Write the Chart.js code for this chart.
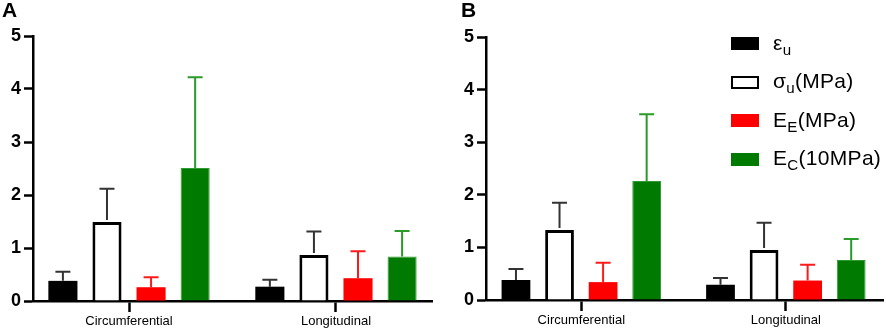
<!DOCTYPE html>
<html><head><meta charset="utf-8">
<script src="https://cdn.jsdelivr.net/npm/chart.js@4.4.0/dist/chart.umd.min.js"></script>
<style>
html,body{margin:0;padding:0;background:#fff;}
#wrap{position:relative;width:886px;height:328px;overflow:hidden;font-family:"Liberation Sans",Arial,sans-serif;color:#000;}
.panel{position:absolute;top:0;width:443px;height:328px;}
.letter{position:absolute;top:-1px;font-weight:bold;font-size:21px;line-height:21px;}
#legend{position:absolute;left:731px;top:0;}
.sw{position:absolute;left:0;width:28px;height:13px;box-sizing:border-box;}
.lt{position:absolute;left:42px;font-size:21px;line-height:22px;white-space:nowrap;letter-spacing:0.3px;}
.lt sub{font-size:0.72em;vertical-align:-0.32em;line-height:0;}
</style></head><body>
<div id="wrap">
<div class="panel" style="left:0"><canvas id="cA" width="443" height="328"></canvas></div>
<div class="panel" style="left:443px"><canvas id="cB" width="443" height="328"></canvas></div>
<div class="letter" style="left:2px">A</div>
<div class="letter" style="left:461px">B</div>
<div id="legend"></div>
</div>
<script>
const categories = ['Circumferential', 'Longitudinal'];
const yTicks = [0, 1, 2, 3, 4, 5];
const seriesMain = ['\u03b5', '\u03c3', 'E', 'E'];
const seriesSub = ['u', 'u', 'E', 'C'];
const seriesUnit = ['', '(MPa)', '(MPa)', '(10MPa)'];
const fillColors = ['#000000', '#ffffff', '#ff0000', '#007a00'];
const edgeColors = ['#000000', '#000000', '#ff0000', '#2f9a2f'];
const errColors = ['#333333', '#333333', '#ff1a1a', '#2a9a2a'];

// Panel A: means
const aStrain = [0.38, 0.27];
const aStress = [1.49, 0.87];
const aModE = [0.26, 0.43];
const aModC = [2.51, 0.84];
// Panel A: SD
const aStrainSd = [0.17, 0.13];
const aStressSd = [0.63, 0.44];
const aModESd = [0.19, 0.51];
const aModCSd = [1.71, 0.48];

// Panel B: means
const bStrain = [0.38, 0.29];
const bStress = [1.33, 0.95];
const bModE = [0.34, 0.37];
const bModC = [2.26, 0.76];
// Panel B: SD
const bStrainSd = [0.21, 0.13];
const bStressSd = [0.52, 0.52];
const bModESd = [0.37, 0.30];
const bModCSd = [1.27, 0.40];

function makeDatasets(vals, sds) {
  return vals.map((v, i) => ({
    label: seriesMain[i] + seriesSub[i] + seriesUnit[i],
    data: v.map((y, k) => ({ x: k, y: y })),
    errors: sds[i],
    backgroundColor: fillColors[i],
    borderColor: edgeColors[i],
    borderWidth: i === 1 ? 3 : (i === 3 ? 1 : 0),
    borderSkipped: 'start',
    categoryPercentage: 0.852,
    barPercentage: 0.66
  }));
}

const errPlugin = {
  id: 'errbars',
  afterDatasetsDraw(chart) {
    const ctx = chart.ctx, ys = chart.scales.y;
    chart.data.datasets.forEach((ds, i) => {
      const meta = chart.getDatasetMeta(i);
      meta.data.forEach((bar, k) => {
        const v = ds.data[k].y, e = ds.errors[k];
        const yTop = ys.getPixelForValue(v + e), yBase = ys.getPixelForValue(v);
        ctx.save();
        ctx.strokeStyle = errColors[i];
        ctx.lineWidth = 2;
        ctx.beginPath();
        ctx.moveTo(bar.x, yBase - (i === 1 ? 2 : 0));
        ctx.lineTo(bar.x, yTop);
        ctx.moveTo(bar.x - 7.5, yTop);
        ctx.lineTo(bar.x + 7.5, yTop);
        ctx.stroke();
        ctx.restore();
      });
    });
  }
};

function makeChart(id, vals, sds, pad, xH, xmin, xmax) {
  return new Chart(document.getElementById(id), {
    type: 'bar',
    data: { datasets: makeDatasets(vals, sds) },
    options: {
      responsive: false,
      animation: false,
      layout: { padding: pad },
      plugins: { legend: { display: false }, tooltip: { enabled: false } },
      scales: {
        x: {
          type: 'linear', min: xmin, max: xmax, offset: false,
          afterBuildTicks(s) { s.ticks = categories.map((c, k) => ({ value: k })); },
          afterFit(s) { s.height = xH; },
          ticks: {
            callback: (v) => categories[v],
            font: { size: 13, family: '"Liberation Sans", Arial, sans-serif' },
            color: '#000', padding: 2, maxRotation: 0, autoSkip: false
          },
          grid: { drawOnChartArea: false, drawTicks: true, tickLength: 11, tickWidth: 2.5, tickColor: '#000', offset: false },
          border: { display: true, color: '#000', width: 2.5 }
        },
        y: {
          min: 0, max: 5,
          afterBuildTicks(s) { s.ticks = yTicks.map(v => ({ value: v })); },
          afterFit(s) { s.width = 33; },
          ticks: {
            font: { size: 18, weight: 'bold', family: '"Liberation Sans", Arial, sans-serif' },
            color: '#000', padding: 3
          },
          grid: { drawOnChartArea: false, drawTicks: true, tickLength: 9, tickWidth: 2.5, tickColor: '#000' },
          border: { display: true, color: '#000', width: 2.5 }
        }
      }
    },
    plugins: [errPlugin]
  });
}

makeChart('cA', [aStrain, aStress, aModE, aModC], [aStrainSd, aStressSd, aModESd, aModCSd],
  { left: 0, top: 36, right: 11, bottom: 0 }, 27, -0.464, 1.464);
makeChart('cB', [bStrain, bStress, bModE, bModC], [bStrainSd, bStressSd, bModESd, bModCSd],
  { left: 10, top: 37, right: 3, bottom: 0 }, 28, -0.466, 1.475);

// HTML legend (with subscripts)
const leg = document.getElementById('legend');
const legTop = 43.7, legStep = 38.5;
seriesMain.forEach((m, i) => {
  const cy = legTop + i * legStep;
  const sw = document.createElement('div');
  sw.className = 'sw';
  sw.style.top = (cy - 6.5) + 'px';
  sw.style.background = fillColors[i];
  if (i === 1) sw.style.border = '2.5px solid #000';
  leg.appendChild(sw);
  const t = document.createElement('div');
  t.className = 'lt';
  t.style.top = (cy - 12) + 'px';
  t.innerHTML = m + '<sub>' + seriesSub[i] + '</sub>' + seriesUnit[i];
  leg.appendChild(t);
});
</script>
</body></html>
